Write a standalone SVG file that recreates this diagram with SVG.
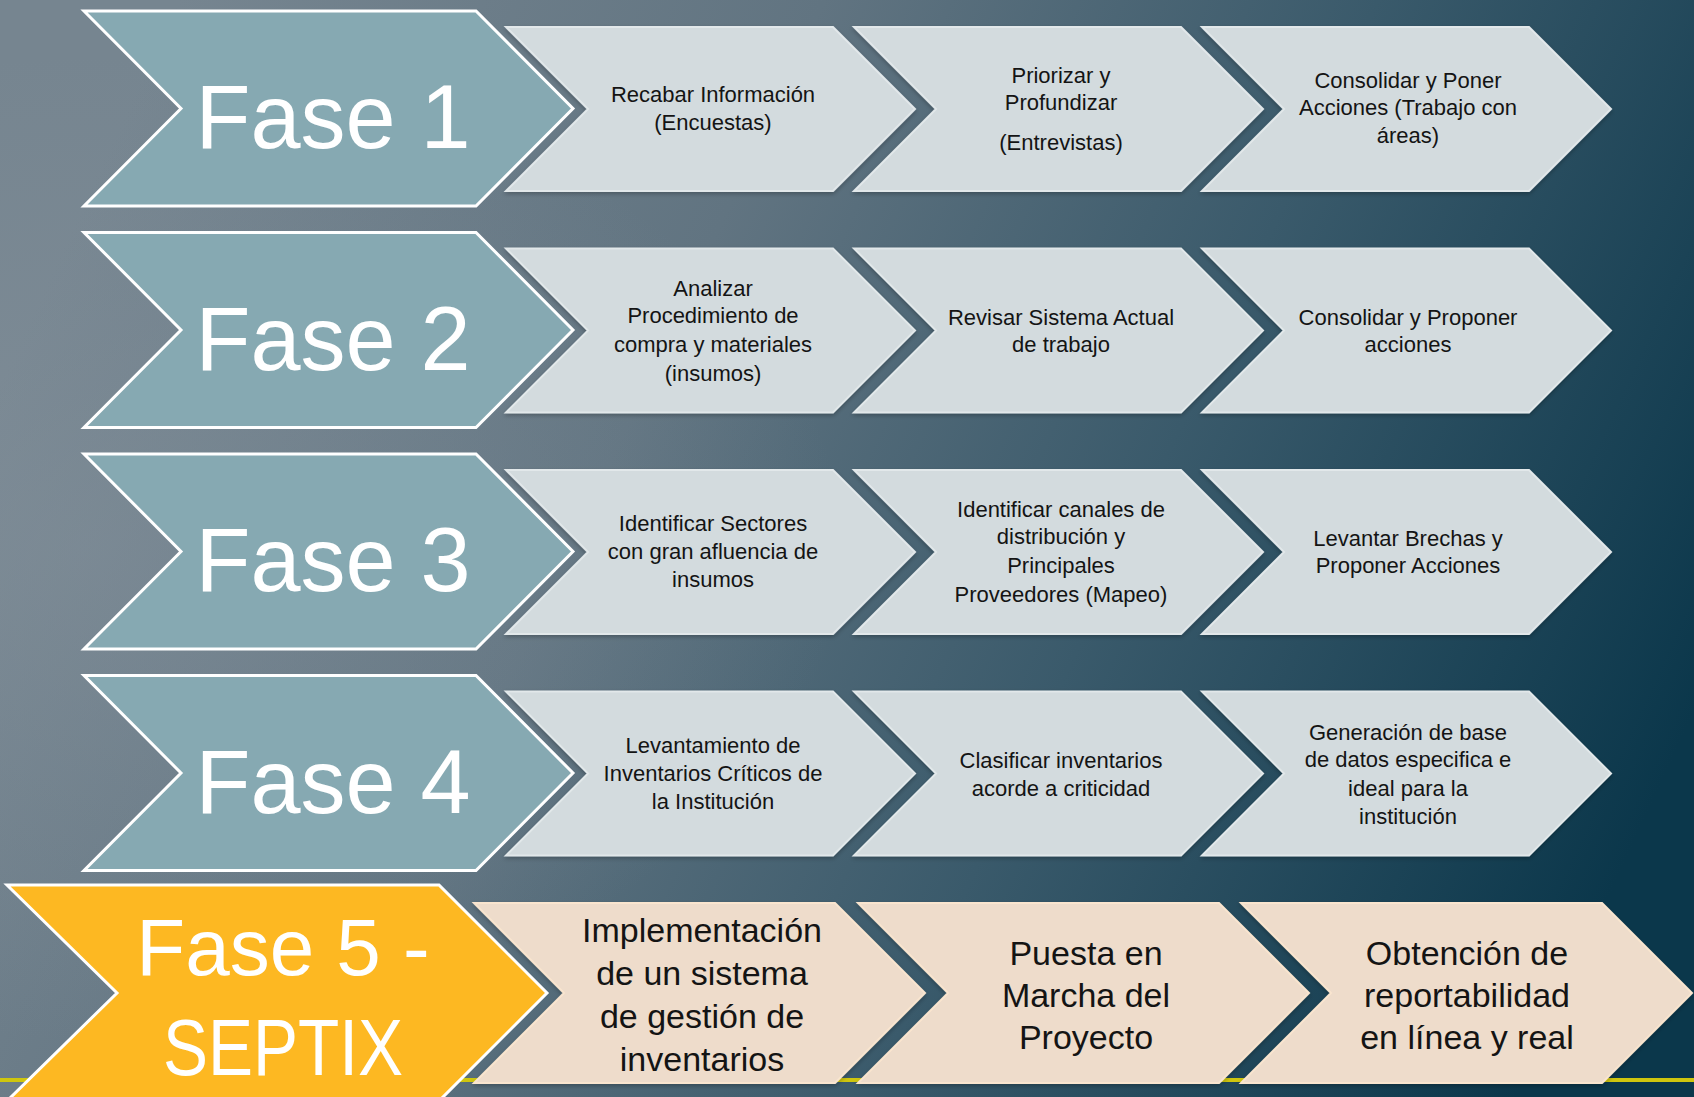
<svg xmlns="http://www.w3.org/2000/svg" width="1694" height="1097" viewBox="0 0 1694 1097">
<defs>
<linearGradient id="bg" x1="0" y1="0.35" x2="1" y2="0.65">
<stop offset="0" stop-color="#768590"/>
<stop offset="0.35" stop-color="#617481"/>
<stop offset="0.65" stop-color="#3a5a6b"/>
<stop offset="1" stop-color="#0b374b"/>
</linearGradient>
<radialGradient id="hl" cx="0.05" cy="0.5" r="0.45">
<stop offset="0" stop-color="#8a96a0" stop-opacity="0.4"/>
<stop offset="1" stop-color="#8a96a0" stop-opacity="0"/>
</radialGradient>
<filter id="sh" x="-5%" y="-5%" width="110%" height="115%">
<feDropShadow dx="0" dy="2" stdDeviation="2" flood-color="#000" flood-opacity="0.25"/>
</filter>
</defs>
<style>
.fase{fill:#86A9B2;stroke:#FFFFFF;stroke-width:3;stroke-linejoin:miter}
.fase5{fill:#FDB822;stroke:#FFFFFF;stroke-width:3}
.step{fill:#D3DBDE;stroke:#E2E8EA;stroke-width:2;filter:url(#sh)}
.step5{fill:#EEDCCB;stroke:#F9E5CF;stroke-width:2;filter:url(#sh)}
text{font-family:"Liberation Sans",Arial,sans-serif;text-anchor:middle}
.t{font-size:22px;fill:#141414}
.t5{font-size:34px;fill:#141414}
.f{font-size:90px;fill:#FFFFFF}
.f5{font-size:80px;fill:#FFFFFF}
</style>
<rect width="1694" height="1097" fill="url(#bg)"/>
<rect width="1694" height="1097" fill="url(#hl)"/>
<line x1="0" y1="1080" x2="1694" y2="1080" stroke="#CFC60E" stroke-width="4"/>
<g id="connectors"/>

<g id="fase1">
<polygon class="fase" points="84,11 476,11 573,108.5 476,206 84,206 181,108.5"/>
<text class="f" x="333" y="148">Fase 1</text>
</g>
<g id="f1s1">
<polygon class="step" points="506,27 833,27 915,109 833,191 506,191 588,109"/>
<text class="t" x="713" y="102">Recabar Información</text>
<text class="t" x="713" y="130">(Encuestas)</text>
</g>
<g id="f1s2">
<polygon class="step" points="854,27 1181,27 1263,109 1181,191 854,191 936,109"/>
<text class="t" x="1061" y="83">Priorizar y</text>
<text class="t" x="1061" y="110">Profundizar</text>
<text class="t" x="1061" y="150">(Entrevistas)</text>
</g>
<g id="f1s3">
<polygon class="step" points="1202,27 1529,27 1611,109 1529,191 1202,191 1284,109"/>
<text class="t" x="1408" y="88">Consolidar y Poner</text>
<text class="t" x="1408" y="115">Acciones (Trabajo con</text>
<text class="t" x="1408" y="143">áreas)</text>
</g>

<g id="fase2">
<polygon class="fase" points="84,232.5 476,232.5 573,330 476,427.5 84,427.5 181,330"/>
<text class="f" x="333" y="369.5">Fase 2</text>
</g>
<g id="f2s1">
<polygon class="step" points="506,248.5 833,248.5 915,330.5 833,412.5 506,412.5 588,330.5"/>
<text class="t" x="713" y="296">Analizar</text>
<text class="t" x="713" y="323">Procedimiento de</text>
<text class="t" x="713" y="352">compra y materiales</text>
<text class="t" x="713" y="381">(insumos)</text>
</g>
<g id="f2s2">
<polygon class="step" points="854,248.5 1181,248.5 1263,330.5 1181,412.5 854,412.5 936,330.5"/>
<text class="t" x="1061" y="325">Revisar Sistema Actual</text>
<text class="t" x="1061" y="352">de trabajo</text>
</g>
<g id="f2s3">
<polygon class="step" points="1202,248.5 1529,248.5 1611,330.5 1529,412.5 1202,412.5 1284,330.5"/>
<text class="t" x="1408" y="325">Consolidar y Proponer</text>
<text class="t" x="1408" y="352">acciones</text>
</g>

<g id="fase3">
<polygon class="fase" points="84,454 476,454 573,551.5 476,649 84,649 181,551.5"/>
<text class="f" x="333" y="591">Fase 3</text>
</g>
<g id="f3s1">
<polygon class="step" points="506,470 833,470 915,552 833,634 506,634 588,552"/>
<text class="t" x="713" y="531">Identificar Sectores</text>
<text class="t" x="713" y="559">con gran afluencia de</text>
<text class="t" x="713" y="587">insumos</text>
</g>
<g id="f3s2">
<polygon class="step" points="854,470 1181,470 1263,552 1181,634 854,634 936,552"/>
<text class="t" x="1061" y="517">Identificar canales de</text>
<text class="t" x="1061" y="544">distribución y</text>
<text class="t" x="1061" y="573">Principales</text>
<text class="t" x="1061" y="602">Proveedores (Mapeo)</text>
</g>
<g id="f3s3">
<polygon class="step" points="1202,470 1529,470 1611,552 1529,634 1202,634 1284,552"/>
<text class="t" x="1408" y="546">Levantar Brechas y</text>
<text class="t" x="1408" y="573">Proponer Acciones</text>
</g>

<g id="fase4">
<polygon class="fase" points="84,675.5 476,675.5 573,773 476,870.5 84,870.5 181,773"/>
<text class="f" x="333" y="812.5">Fase 4</text>
</g>
<g id="f4s1">
<polygon class="step" points="506,691.5 833,691.5 915,773.5 833,855.5 506,855.5 588,773.5"/>
<text class="t" x="713" y="753">Levantamiento de</text>
<text class="t" x="713" y="781">Inventarios Críticos de</text>
<text class="t" x="713" y="809">la Institución</text>
</g>
<g id="f4s2">
<polygon class="step" points="854,691.5 1181,691.5 1263,773.5 1181,855.5 854,855.5 936,773.5"/>
<text class="t" x="1061" y="768">Clasificar inventarios</text>
<text class="t" x="1061" y="796">acorde a criticidad</text>
</g>
<g id="f4s3">
<polygon class="step" points="1202,691.5 1529,691.5 1611,773.5 1529,855.5 1202,855.5 1284,773.5"/>
<text class="t" x="1408" y="740">Generación de base</text>
<text class="t" x="1408" y="767">de datos especifica e</text>
<text class="t" x="1408" y="796">ideal para la</text>
<text class="t" x="1408" y="824">institución</text>
</g>

<g id="fase5">
<polygon class="fase5" points="7,885 439,885 547,993 439,1101 7,1101 117,993"/>
<text class="f5" x="283" y="975">Fase 5 -</text>
<text class="f5" x="283" y="1075" textLength="240" lengthAdjust="spacingAndGlyphs">SEPTIX</text>
</g>
<g id="f5s1">
<polygon class="step5" points="474,903 835,903 925,993 835,1083 474,1083 564,993"/>
<text class="t5" x="702" y="942">Implementación</text>
<text class="t5" x="702" y="985">de un sistema</text>
<text class="t5" x="702" y="1028">de gestión de</text>
<text class="t5" x="702" y="1071">inventarios</text>
</g>
<g id="f5s2">
<polygon class="step5" points="858,903 1219,903 1309,993 1219,1083 858,1083 948,993"/>
<text class="t5" x="1086" y="965">Puesta en</text>
<text class="t5" x="1086" y="1007">Marcha del</text>
<text class="t5" x="1086" y="1049">Proyecto</text>
</g>
<g id="f5s3">
<polygon class="step5" points="1241,903 1602,903 1692,993 1602,1083 1241,1083 1331,993"/>
<text class="t5" x="1467" y="965">Obtención de</text>
<text class="t5" x="1467" y="1007">reportabilidad</text>
<text class="t5" x="1467" y="1049">en línea y real</text>
</g>
</svg>
